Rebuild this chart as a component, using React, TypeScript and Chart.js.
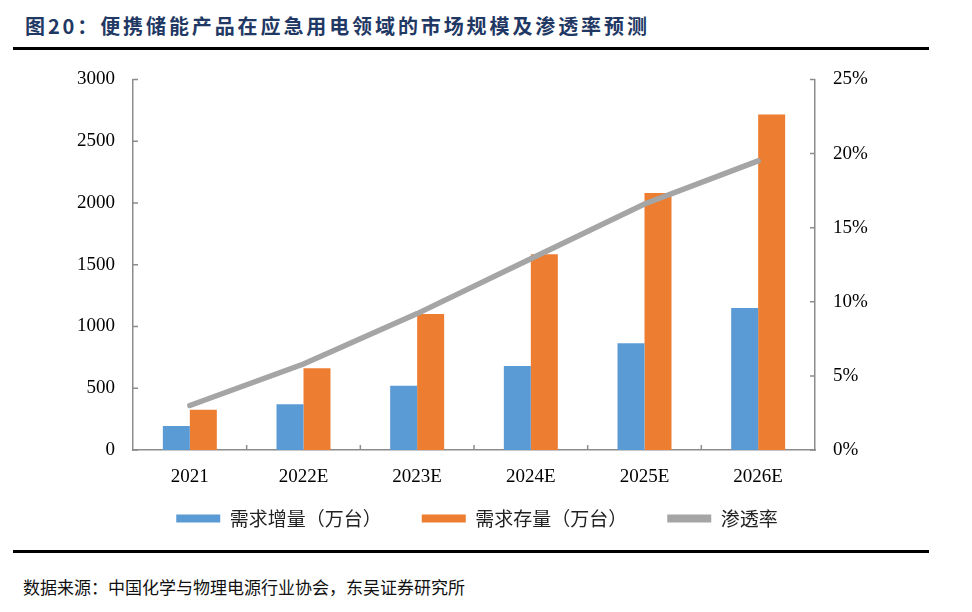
import React, { useEffect, useRef } from "react";
import { Chart, registerables } from "chart.js";

Chart.register(...registerables);

const categories = ["2021", "2022E", "2023E", "2024E", "2025E", "2026E"];
const demandIncrease = [195, 370, 520, 680, 865, 1150];
const demandStock = [325, 662, 1100, 1585, 2080, 2715];
const penetration = [0.03, 0.058, 0.092, 0.129, 0.166, 0.195];
const leftTicks = [0, 500, 1000, 1500, 2000, 2500, 3000];
const rightTicks = [0, 0.05, 0.1, 0.15, 0.2, 0.25];

const seriesNames = ["需求增量（万台）", "需求存量（万台）", "渗透率"];
const titleText = "图20：便携储能产品在应急用电领域的市场规模及渗透率预测";
const sourceText = "数据来源：中国化学与物理电源行业协会，东吴证券研究所";

const AXIS_COLOR = "#8C8C8C";
const LEGEND_SHIFT = 26;

const innerTicks = {
  id: "innerTicks",
  afterDatasetsDraw(chart: any) {
    const { ctx, chartArea, scales } = chart;
    const len = 5;
    ctx.save();
    ctx.strokeStyle = AXIS_COLOR;
    ctx.lineWidth = 1.5;
    ctx.beginPath();
    const y = scales.y;
    y.ticks.forEach((t: any) => {
      const p = y.getPixelForValue(t.value);
      ctx.moveTo(chartArea.left, p);
      ctx.lineTo(chartArea.left + len, p);
    });
    const y1 = scales.y1;
    y1.ticks.forEach((t: any) => {
      const p = y1.getPixelForValue(t.value);
      ctx.moveTo(chartArea.right, p);
      ctx.lineTo(chartArea.right - len, p);
    });
    const x = scales.x;
    for (let i = 1; i < categories.length; i++) {
      const p = (x.getPixelForValue(i - 1) + x.getPixelForValue(i)) / 2;
      ctx.moveTo(p, chartArea.bottom);
      ctx.lineTo(p, chartArea.bottom - len);
    }
    ctx.stroke();
    ctx.restore();
  },
};

const legendShift = {
  id: "legendShift",
  afterLayout(chart: any) {
    const lg = chart.legend;
    if (lg) {
      lg.top -= LEGEND_SHIFT;
      lg.bottom -= LEGEND_SHIFT;
    }
  },
};

export default function App() {
  const ref = useRef<HTMLCanvasElement | null>(null);

  useEffect(() => {
    if (!ref.current) return;
    const tickFont = { family: "'Liberation Serif', 'Times New Roman', serif", size: 19 };
    const chart = new Chart(ref.current, {
      type: "bar",
      data: {
        labels: categories,
        datasets: [
          {
            type: "bar",
            label: seriesNames[0],
            data: demandIncrease,
            backgroundColor: "#5B9BD5",
            yAxisID: "y",
            order: 1,
            categoryPercentage: 0.475,
            barPercentage: 1,
          },
          {
            type: "bar",
            label: seriesNames[1],
            data: demandStock,
            backgroundColor: "#ED7D31",
            yAxisID: "y",
            order: 1,
            categoryPercentage: 0.475,
            barPercentage: 1,
          },
          {
            type: "line",
            label: seriesNames[2],
            data: penetration,
            borderColor: "#A5A5A5",
            backgroundColor: "#A5A5A5",
            borderWidth: 5.5,
            borderCapStyle: "round",
            pointRadius: 0,
            tension: 0,
            yAxisID: "y1",
            order: 0,
          },
        ] as any,
      },
      options: {
        animation: false,
        responsive: false,
        maintainAspectRatio: false,
        layout: { padding: { top: 0, left: 0, right: 18, bottom: 0 } },
        plugins: {
          tooltip: { enabled: false },
          title: { display: false },
          legend: {
            display: true,
            position: "bottom",
            labels: {
              font: { family: "'Noto Sans CJK SC', sans-serif", size: 19 },
              color: "#222",
              boxWidth: 44,
              boxHeight: 8,
              padding: 40,
              generateLabels: (c: any) =>
                c.data.datasets.map((ds: any, i: number) => ({
                  text: ds.label,
                  fillStyle: ds.backgroundColor,
                  strokeStyle: ds.backgroundColor,
                  lineWidth: 0,
                  hidden: false,
                  datasetIndex: i,
                  fontColor: "#222",
                })),
            },
          },
        },
        scales: {
          x: {
            offset: true,
            grid: { display: false, drawTicks: false },
            border: { display: true, color: AXIS_COLOR, width: 1.5 },
            ticks: { font: tickFont, color: "#000", padding: 16, maxRotation: 0 },
            afterFit: (s: any) => {
              s.height = 45;
            },
          },
          y: {
            position: "left",
            min: 0,
            max: 3000,
            afterBuildTicks: (s: any) => {
              s.ticks = leftTicks.map((v) => ({ value: v }));
            },
            grid: { display: false, drawTicks: false },
            border: { display: true, color: AXIS_COLOR, width: 1.5 },
            ticks: { font: tickFont, color: "#000", padding: 18, callback: (v: any) => String(v) },
            afterFit: (s: any) => {
              s.width = 133;
            },
          },
          y1: {
            position: "right",
            min: 0,
            max: 0.25,
            afterBuildTicks: (s: any) => {
              s.ticks = rightTicks.map((v) => ({ value: v }));
            },
            grid: { display: false, drawTicks: false },
            border: { display: true, color: AXIS_COLOR, width: 1.5 },
            ticks: {
              font: tickFont,
              color: "#000",
              padding: 18,
              callback: (v: any) => `${Math.round(Number(v) * 100)}%`,
            },
            afterFit: (s: any) => {
              s.width = 139;
            },
          },
        },
      } as any,
      plugins: [innerTicks, legendShift],
    });
    return () => chart.destroy();
  }, []);

  return (
    <div
      style={{
        position: "fixed",
        left: 0,
        top: 0,
        width: 972,
        height: 612,
        background: "#fff",
        overflow: "hidden",
      }}
    >
      <div
        style={{
          position: "absolute",
          left: 25,
          top: 12,
          fontFamily: "'Noto Sans CJK SC', sans-serif",
          fontWeight: 700,
          fontSize: 20,
          letterSpacing: 2.9,
          lineHeight: "28px",
          color: "#1F3864",
          whiteSpace: "nowrap",
        }}
      >
        {titleText}
      </div>
      <div style={{ position: "absolute", left: 13, top: 47, width: 916, height: 3, background: "#000" }} />
      <canvas
        ref={ref}
        width={972}
        height={514}
        style={{ position: "absolute", left: 0, top: 50, width: 972, height: 514 }}
      />
      <div style={{ position: "absolute", left: 13, top: 550, width: 916, height: 3, background: "#000" }} />
      <div
        style={{
          position: "absolute",
          left: 23,
          top: 574,
          fontFamily: "'Noto Sans CJK SC', sans-serif",
          fontSize: 17,
          lineHeight: "26px",
          color: "#111",
          whiteSpace: "nowrap",
        }}
      >
        {sourceText}
      </div>
    </div>
  );
}
